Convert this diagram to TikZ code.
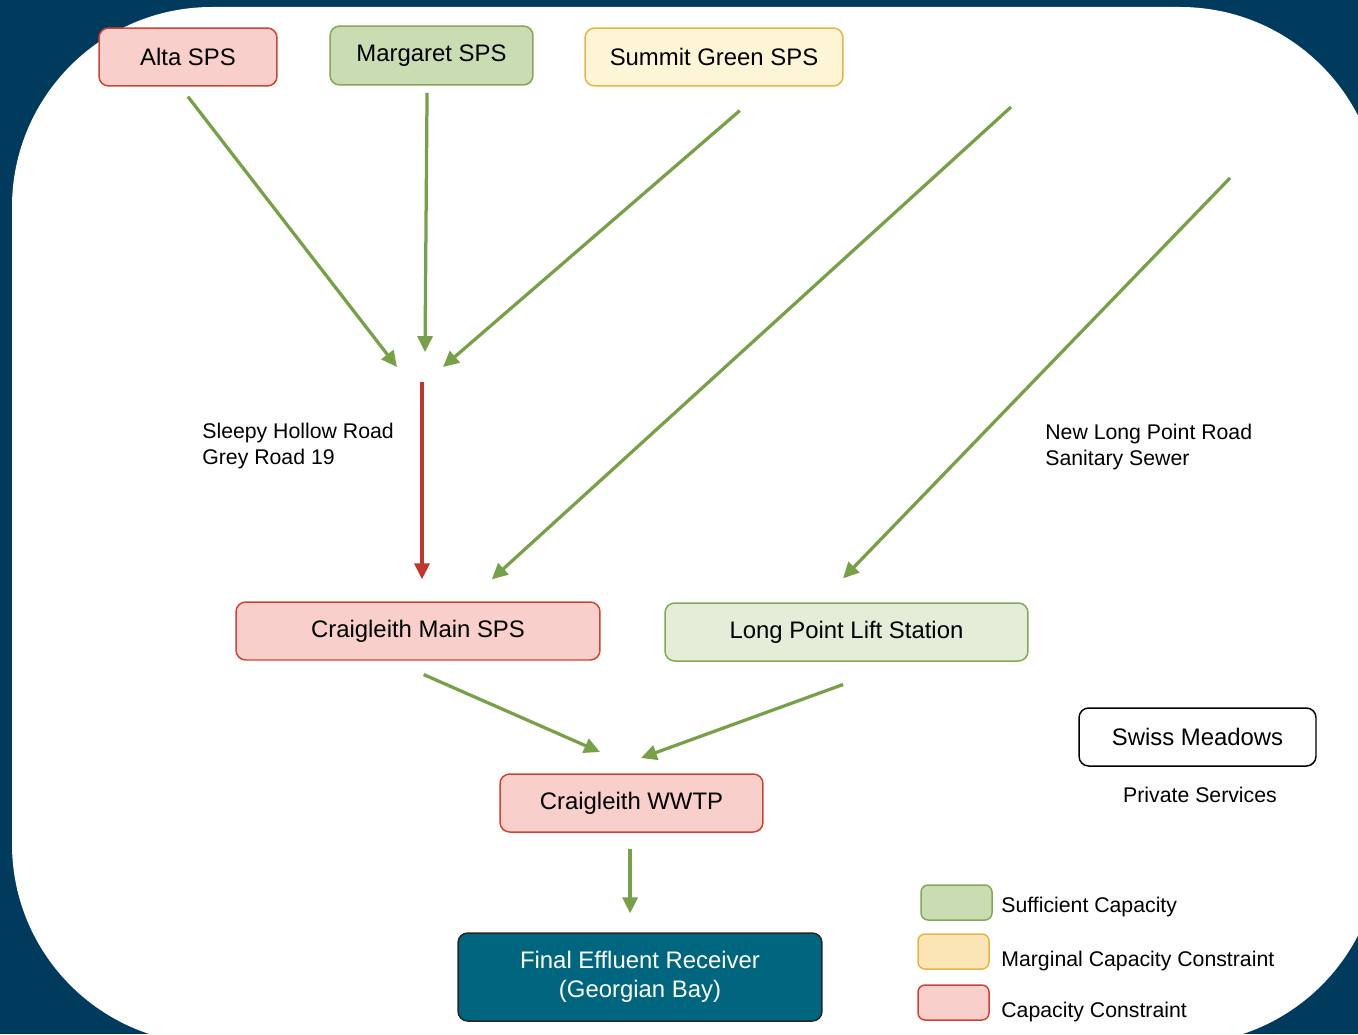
\documentclass[tikz,border=0pt]{standalone}
\usepackage{fontspec}
\setmainfont{Liberation Sans}
\usetikzlibrary{arrows.meta}

\definecolor{navy}{HTML}{003A5C}
\definecolor{flowgreen}{HTML}{78A048}
\definecolor{flowred}{HTML}{C2352A}
\definecolor{pinkfill}{HTML}{F8CFCB}
\definecolor{redline}{HTML}{CF4436}
\definecolor{greenfill}{HTML}{CADCB1}
\definecolor{paleshade}{HTML}{E3EDD8}
\definecolor{greenline}{HTML}{84A75A}
\definecolor{creamfill}{HTML}{FEF4D6}
\definecolor{yellowfill}{HTML}{FBE4B5}
\definecolor{yellowline}{HTML}{E8B444}
\definecolor{tealfill}{HTML}{006680}

\newcommand{\bigtxt}{\fontsize{13.6}{16.5}\selectfont}
\newcommand{\labeltxt}{\fontsize{12.1}{14.8}\selectfont}

\begin{document}
\begin{tikzpicture}[x=0.02cm,y=-0.02cm,
  box/.style={draw,rounded corners=5.5pt,line width=0.85pt,minimum height=1.16cm,inner sep=0pt,font=\bigtxt},
  redbox/.style={box,fill=pinkfill,draw=redline},
  greenbox/.style={box,fill=greenfill,draw=greenline},
  keybox/.style={draw,rounded corners=4pt,line width=0.85pt,minimum width=1.42cm,minimum height=0.7cm,inner sep=0pt},
  lbl/.style={font=\labeltxt,align=left,inner sep=0pt},
  flow/.style={draw=flowgreen,line width=1.85pt,-{Triangle[length=9pt,width=8.5pt]}},
  redflow/.style={flow,draw=flowred}
]
\useasboundingbox (0,0) rectangle (1358,1034);
\fill[navy] (0,0) rectangle (1358,1034);
\begin{scope}
\clip (0,0) rectangle (1358,1034);
\fill[white,rounded corners=4cm] (12,7) rectangle (1380,1044);
\end{scope}

% pumping stations
\node[redbox,minimum width=3.56cm] (alta) at (188,57) {Alta SPS};
\node[greenbox,minimum width=4.06cm,minimum height=1.18cm] (margaret) at (431.5,55.5) {Margaret SPS};
\node[box,fill=creamfill,draw=yellowline,minimum width=5.16cm] (summit) at (714,57) {Summit Green SPS};
\node[redbox,minimum width=7.28cm] (main) at (418,631) {Craigleith Main SPS};
\node[box,fill=paleshade,draw=greenline,minimum width=7.26cm] (longpoint) at (846.5,632) {Long Point Lift Station};
\node[redbox,minimum width=5.26cm] (wwtp) at (631.5,803) {Craigleith WWTP};
\node[box,fill=tealfill,draw=black!85,text=white,align=center,minimum width=7.28cm,minimum height=1.76cm,
  font=\fontsize{13.6}{16.5}\selectfont] (final) at (640,977) {Final Effluent Receiver\\(Georgian Bay)};
\node[box,fill=white,draw=black,minimum width=4.74cm] (swiss) at (1197.5,737) {Swiss Meadows};
\node[lbl] (private) at (1200,795) {Private Services};

% sewer labels
\node[lbl,anchor=west] (sleepy) at (202,446) {Sleepy Hollow Road\\Grey Road 19};
\node[lbl,anchor=west] (newlong) at (1045,447) {New Long Point Road\\Sanitary Sewer};

% flows
\coordinate (alta in) at (397,367);
\coordinate (margaret in) at (425,352);
\coordinate (summit in) at (443,367);
\coordinate (jct) at (422,382);
\coordinate (sewer a) at (1011,107);
\coordinate (sewer b) at (1230,178);
\coordinate (wwtp in a) at (600,752);
\coordinate (wwtp in b) at (641,758);
\draw[flow,shorten <=7.1pt] ([xshift=-4.4pt]alta.south) -- (alta in);
\draw[flow,shorten <=4pt] ([xshift=-2.5pt]margaret.south) -- (margaret in);
\draw[flow,shorten <=20.8pt] ([xshift=30.4pt]summit.south) -- (summit in);
\draw[redflow,shorten >=12.5pt] (jct) -- (jct |- main.north);
\draw[flow,shorten >=18.5pt] (sewer a) -- ([xshift=28.3pt]main.north);
\draw[flow,shorten >=18.9pt] (sewer b) -- ([xshift=-15.1pt]longpoint.north);
\draw[flow,shorten <=19.6pt] ([xshift=-14.7pt]main.south) -- (wwtp in a);
\draw[flow,shorten <=37.9pt] ([xshift=33.7pt]longpoint.south) -- (wwtp in b);
\draw[flow,shorten <=9.1pt,shorten >=10.8pt] ([xshift=-0.8pt]wwtp.south) -- ([xshift=-0.8pt]wwtp.south |- final.north);

% legend
\node[keybox,fill=greenfill,draw=greenline] (key suff) at (956.5,902.5) {};
\node[keybox,fill=yellowfill,draw=yellowline] (key marg) at (953.5,951.5) {};
\node[keybox,fill=pinkfill,draw=redline] (key cons) at (953.5,1002.5) {};
\node[lbl,anchor=west] at (1001,907) {Sufficient Capacity};
\node[lbl,anchor=west] at (1001,961) {Marginal Capacity Constraint};
\node[lbl,anchor=west] at (1001,1012) {Capacity Constraint};

\end{tikzpicture}
\end{document}
